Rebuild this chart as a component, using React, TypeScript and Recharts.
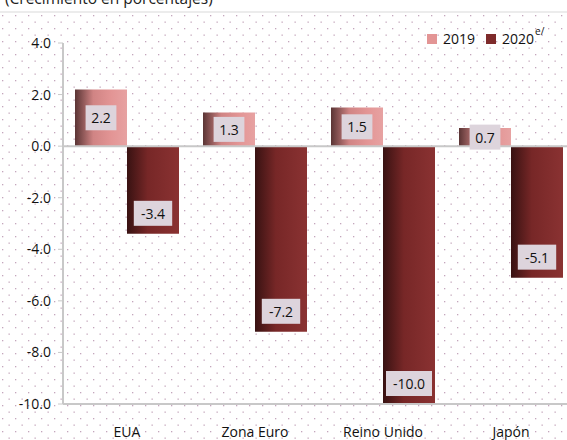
import React from 'react';
import { BarChart, Bar, XAxis, YAxis, ReferenceLine, LabelList } from 'recharts';

const regions = ['EUA', 'Zona Euro', 'Reino Unido', 'Japón'];
const growth2019 = [2.2, 1.3, 1.5, 0.7];
const growth2020 = [-3.4, -7.2, -10.0, -5.1];
const yTicks = [-10, -8, -6, -4, -2, 0, 2, 4];

const data = regions.map((name, i) => ({ name, y2019: growth2019[i], y2020: growth2020[i] }));

const FONT = '"Open Sans", "Noto Sans", sans-serif';

function ValueBox(props: any) {
  const { x, y, width, height, value } = props;
  const top = Math.min(y, y + height);
  const bottom = Math.max(y, y + height);
  const label = Number(value).toFixed(1);
  const w = label.length * 7.6 + 8;
  const h = 25;
  const cx = x + width / 2;
  const by = value >= 0 ? (top + bottom) / 2 - h / 2 : bottom - 8 - h;
  return (
    <g>
      <rect x={cx - w / 2} y={by} width={w} height={h} fill="#ddd4dc" />
      <text x={cx} y={by + h / 2} textAnchor="middle" dominantBaseline="central" fontSize={14} fill="#111" fontFamily={FONT}>
        {label}
      </text>
    </g>
  );
}

function CategoryTick(props: any) {
  const { x, y, payload } = props;
  return (
    <text x={x} y={y + 33} textAnchor="middle" fontSize={14} fill="#111" fontFamily={FONT}>
      {payload.value}
    </text>
  );
}

export default function App() {
  return (
    <div style={{ position: 'absolute', left: 0, top: 0, width: 567, height: 440, overflow: 'hidden', background: '#fff', fontFamily: FONT }}>
      <svg width={567} height={440} style={{ position: 'absolute', left: 0, top: 0 }}>
        <defs>
          <pattern id="dots" width={13} height={13} patternUnits="userSpaceOnUse">
            <rect x={2} y={2} width={1.3} height={1.3} fill="#c4a6bc" />
            <rect x={8.5} y={8.5} width={1.3} height={1.3} fill="#c4a6bc" />
          </pattern>
        </defs>
        <rect x={0} y={12} width={567} height={428} fill="url(#dots)" />
        <line x1={0} y1={12} x2={567} y2={12} stroke="#d9d9d9" />
      </svg>
      <div style={{ position: 'absolute', left: 5, top: -13, fontSize: 15.5, color: '#222', whiteSpace: 'nowrap' }}>(Crecimiento en porcentajes)</div>
      <div style={{ position: 'absolute', left: 427, top: 29, fontSize: 14, color: '#111', display: 'flex', alignItems: 'center' }}>
        <span style={{ width: 10, height: 10, background: '#e39595', display: 'inline-block', marginRight: 6 }} />
        <span style={{ marginRight: 11 }}>2019</span>
        <span style={{ width: 10, height: 10, background: '#7e2b2b', display: 'inline-block', marginRight: 6 }} />
        <span>2020</span>
        <span style={{ fontSize: 10, position: 'relative', top: -8, marginLeft: 1 }}>e/</span>
      </div>
      <BarChart
        width={575}
        height={440}
        data={data}
        margin={{ top: 43, right: 0, bottom: 0, left: 0 }}
        barGap={0}
        barCategoryGap={12}
        style={{ position: 'absolute', left: 0, top: 0 }}
      >
        <defs>
          <linearGradient id="g2019" x1="0" y1="0" x2="1" y2="0">
            <stop offset="0%" stopColor="#5a3434" />
            <stop offset="35%" stopColor="#d08484" />
            <stop offset="70%" stopColor="#e39595" />
            <stop offset="100%" stopColor="#e7a2a2" />
          </linearGradient>
          <linearGradient id="g2020" x1="0" y1="0" x2="1" y2="0">
            <stop offset="0%" stopColor="#381212" />
            <stop offset="40%" stopColor="#772727" />
            <stop offset="100%" stopColor="#8a3232" />
          </linearGradient>
        </defs>
        <XAxis dataKey="name" axisLine={false} tickLine={false} tickSize={0} tickMargin={0} height={36} tick={<CategoryTick />} interval={0} />
        <YAxis
          domain={[-10, 4]}
          ticks={yTicks}
          width={63}
          tickFormatter={(v: number) => v.toFixed(1)}
          axisLine={{ stroke: '#c8c8c8', strokeWidth: 2 }}
          tickLine={{ stroke: '#c8c8c8' }}
          tickSize={5}
          tickMargin={7}
          tick={{ fontSize: 14, fill: '#111', fontFamily: FONT }}
        />
        <ReferenceLine y={0} stroke="#c8c8c8" strokeWidth={2} />
        <ReferenceLine y={-10} stroke="#c8c8c8" strokeWidth={2} />
        <Bar dataKey="y2019" fill="url(#g2019)" isAnimationActive={false}>
          <LabelList dataKey="y2019" content={<ValueBox />} />
        </Bar>
        <Bar dataKey="y2020" fill="url(#g2020)" isAnimationActive={false}>
          <LabelList dataKey="y2020" content={<ValueBox />} />
        </Bar>
      </BarChart>
    </div>
  );
}
